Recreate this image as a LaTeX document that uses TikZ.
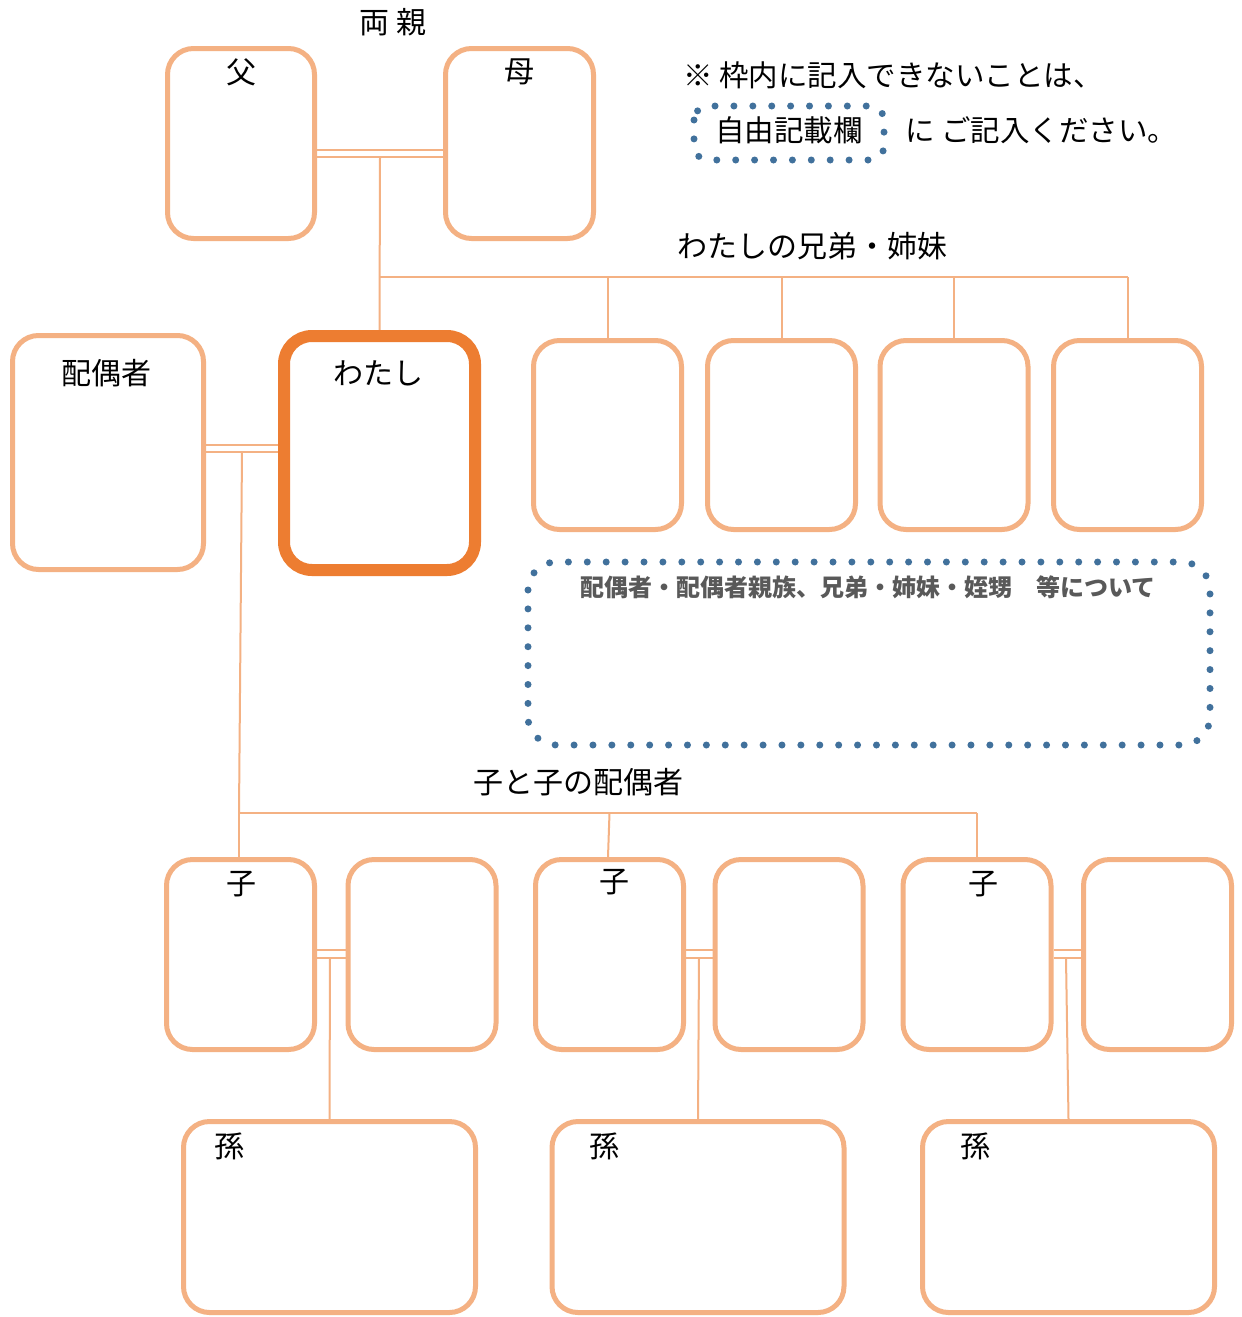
\documentclass[tikz,border=0pt]{standalone}
\usepackage{fontspec}
\setmainfont{Noto Sans CJK JP}
\usetikzlibrary{calc,backgrounds}
\definecolor{lightor}{HTML}{F4B183}
\definecolor{darkor}{HTML}{ED7D31}
\definecolor{dotblue}{HTML}{41719C}
\definecolor{notegray}{HTML}{595959}
\tikzset{
  pbox/.style={draw=lightor, line width=5pt, rounded corners=26pt, fill=white, inner sep=0pt},
  mebox/.style={draw=darkor, line width=12pt, rounded corners=28pt, fill=white, inner sep=0pt},
  link/.style={draw=lightor, line width=2pt},
  dotframe/.style={draw=dotblue, line width=7pt, line cap=round, dash pattern=on 0pt off 18.9pt},
  lbl/.style={font=\fontsize{30}{34}\selectfont, inner sep=0pt, text=black},
  note/.style={font=\fontsize{29.5}{34}\selectfont, inner sep=0pt, text=black},
}
\begin{document}
\begin{tikzpicture}[x=1pt,y=-1pt]
\useasboundingbox (0,0) rectangle (1242,1317);

\coordinate (pj) at (380,157);
\coordinate (sbL) at (380,277);
\coordinate (sbR) at (1127.5,277);
\coordinate (sj) at (242,452);
\coordinate (cbL) at (239,813);
\coordinate (cbR) at (977,813);
\coordinate (cj1) at (330,958);
\coordinate (cj2) at (699,958);
\coordinate (cj3) at (1066,958);

% boxes
\node[pbox, minimum width=147pt, minimum height=190pt] (fa) at (241,143.5) {};
\node[pbox, minimum width=148pt, minimum height=190pt] (mo) at (519.5,143.5) {};
\node[pbox, minimum width=191pt, minimum height=234pt] (sp) at (108,452.5) {};
\node[mebox, minimum width=191pt, minimum height=234pt] (me) at (379.5,453) {};
\foreach \n/\x in {s1/607.5, s2/781.5, s3/954, s4/1127.5}
  \node[pbox, minimum width=148pt, minimum height=189pt] (\n) at (\x,435) {};
\foreach \n/\x in {c1/240.5, c1s/422, c2/609.5, c2s/789, c3/977, c3s/1157.5}
  \node[pbox, minimum width=148pt, minimum height=190pt] (\n) at (\x,954.5) {};
\foreach \n/\x in {g1/329.5, g2/698, g3/1068.5}
  \node[pbox, minimum width=292pt, minimum height=191pt] (\n) at (\x,1217) {};

\begin{pgfonlayer}{background}
\fill[white] (0,0) rectangle (1242,1317);
% parents double line
\draw[link] (fa.east |- 0,150) -- (mo.west |- 0,150);
\draw[link] (fa.east |- pj) -- (mo.west |- pj);
\draw[link] (pj) -- (me.north);
% siblings bus
\draw[link] (sbL) -- (sbR);
\foreach \n in {s1,s2,s3,s4} \draw[link] (\n.north |- sbR) -- (\n.north);
% spouse double line
\draw[link] (sp.east |- 0,445) -- (me.west |- 0,445);
\draw[link] (sp.east |- sj) -- (me.west |- sj);
\draw[link] (sj) -- (cbL);
% children bus
\draw[link] (cbL) -- (cbR);
\draw[link] (cbL) -- (cbL |- c1.north);
\draw[link] (c2.north |- cbL) -- ($(c2.north)+(-1.5,0)$);
\draw[link] (cbR) -- (c3.north);
% child couples double lines and grandchildren
\foreach \a/\b/\j/\g in {c1/c1s/cj1/g1, c2/c2s/cj2/g2, c3/c3s/cj3/g3}{
  \draw[link] (\a.east |- 0,950) -- (\b.west |- 0,950);
  \draw[link] (\a.east |- \j) -- (\b.west |- \j);
  \draw[link] (\j) -- (\g.north);
}
\end{pgfonlayer}

% ---- labels ----
\node[lbl] (tparents) at (393,22) {両 親};
\node[lbl] (tfa) at (241,72) {父};
\node[lbl] (tmo) at (519,72) {母};
\node[lbl] (tsp) at (106,373) {配偶者};
\node[lbl] (tme) at (378,373) {わたし};
\node[lbl] (tsib) at (812,246) {わたしの兄弟・姉妹};
\node[lbl] (tch) at (578,782) {子と子の配偶者};
\node[lbl] (tc1) at (241,884) {子};
\node[lbl] (tc2) at (614,882) {子};
\node[lbl] (tc3) at (983,884) {子};
\node[lbl] (tg1) at (229,1146) {孫};
\node[lbl] (tg2) at (604,1146) {孫};
\node[lbl] (tg3) at (975,1146) {孫};

% ---- note ----
\node[note, anchor=west] (n1) at (683,75) {※ 枠内に記入できないことは、};
\draw[dotframe, rounded corners=14pt] (694,106) rectangle (884,160);
\node[note] (n2) at (789,130) {自由記載欄};
\node[note, anchor=west] (n3) at (905,130) {に ご記入ください。};

% ---- free area ----
\draw[dotframe, rounded corners=28pt] (528,562) rectangle (1210,745);
\node[font=\fontsize{24}{28}\selectfont\bfseries, text=notegray, inner sep=0pt] (free) at (868,587) {配偶者・配偶者親族、兄弟・姉妹・姪甥　等について};
\end{tikzpicture}
\end{document}
